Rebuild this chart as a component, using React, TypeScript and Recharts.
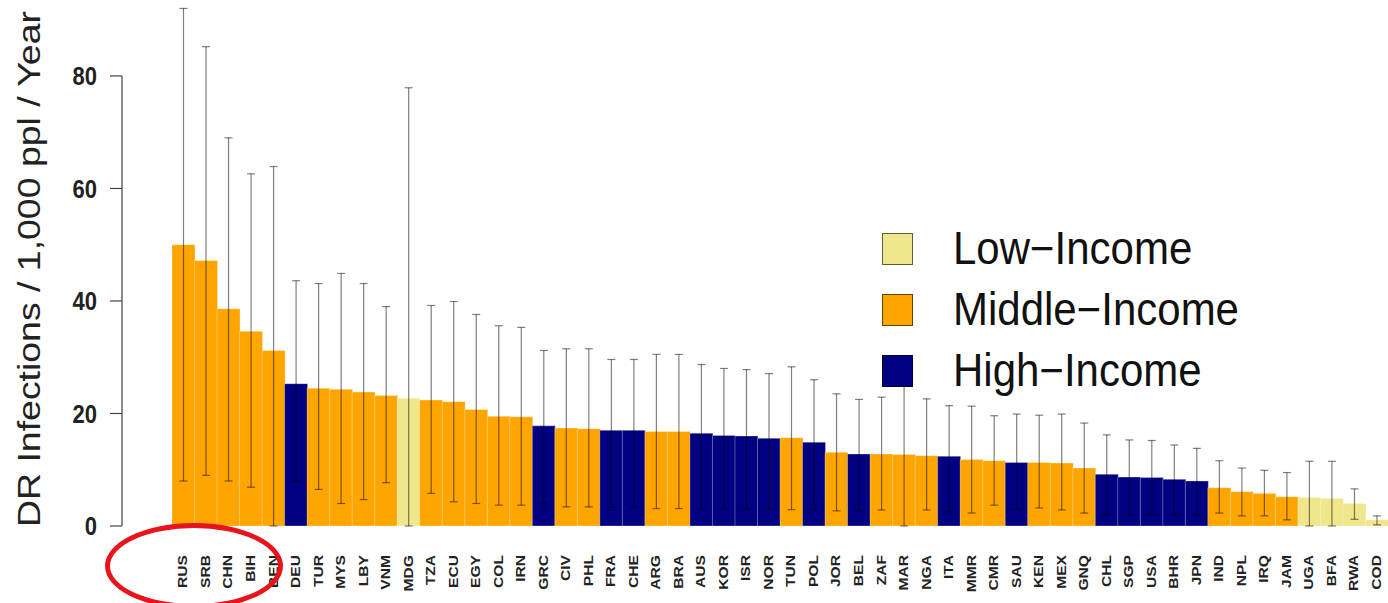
import { BarChart, Bar, Cell, XAxis, YAxis, ErrorBar, Legend } from "recharts";

// countries, ordered as in the figure
const CODES = [
  "RUS", "SRB", "CHN", "BIH", "BEN", "DEU", "TUR", "MYS", "LBY", "VNM",
  "MDG", "TZA", "ECU", "EGY", "COL", "IRN", "GRC", "CIV", "PHL", "FRA",
  "CHE", "ARG", "BRA", "AUS", "KOR", "ISR", "NOR", "TUN", "POL", "JOR",
  "BEL", "ZAF", "MAR", "NGA", "ITA", "MMR", "CMR", "SAU", "KEN", "MEX",
  "GNQ", "CHL", "SGP", "USA", "BHR", "JPN", "IND", "NPL", "IRQ", "JAM",
  "UGA", "BFA", "RWA", "COD",
];

// L = low, M = middle, H = high income
const GROUPS = [
  "M", "M", "M", "M", "M", "H", "M", "M", "M", "M",
  "L", "M", "M", "M", "M", "M", "H", "M", "M", "H",
  "H", "M", "M", "H", "H", "H", "H", "M", "H", "M",
  "H", "M", "M", "M", "H", "M", "M", "H", "M", "M",
  "M", "H", "H", "H", "H", "H", "M", "M", "M", "M",
  "L", "L", "L", "L",
];

const RATES = [
  50.0, 47.2, 38.6, 34.6, 31.2, 25.3, 24.5, 24.3, 23.8, 23.2,
  22.7, 22.4, 22.1, 20.7, 19.5, 19.4, 17.8, 17.4, 17.3, 17.0,
  17.0, 16.8, 16.8, 16.5, 16.1, 16.0, 15.6, 15.7, 14.9, 13.1,
  12.8, 12.8, 12.7, 12.5, 12.4, 11.8, 11.6, 11.3, 11.3, 11.2,
  10.3, 9.2, 8.7, 8.6, 8.3, 8.0, 6.8, 6.1, 5.8, 5.2,
  5.1, 4.9, 4.0, 1.1,
];

const LOWER = [
  8.0, 9.0, 8.0, 6.9, 0, 8.0, 6.5, 4.0, 4.7, 7.7,
  0, 5.8, 4.3, 4.0, 3.7, 3.7, 4.0, 3.4, 3.4, 3.3,
  3.3, 3.1, 3.1, 3.0, 3.0, 3.0, 3.0, 2.9, 2.9, 2.7,
  2.7, 2.85, 0, 2.85, 2.5, 2.3, 3.7, 3.0, 3.2, 2.85,
  2.3, 2.0, 2.0, 2.0, 2.0, 2.0, 2.3, 1.8, 1.8, 1.1,
  0, 0, 1.2, 0.2,
];

const UPPER = [
  92.0, 85.2, 69.0, 62.6, 63.9, 43.6, 43.1, 44.9, 43.1, 39.0,
  77.9, 39.2, 39.9, 37.6, 35.6, 35.3, 31.2, 31.5, 31.5, 29.6,
  29.6, 30.5, 30.5, 28.7, 28.0, 27.8, 27.1, 28.3, 26.0, 23.5,
  22.5, 22.9, 28.0, 22.6, 21.4, 21.3, 19.6, 19.9, 19.7, 19.9,
  18.3, 16.2, 15.3, 15.2, 14.4, 13.8, 11.6, 10.3, 9.9, 9.5,
  11.5, 11.5, 6.6, 1.8,
];

const Y_TICKS = [0, 20, 40, 60, 80];

const LEGEND_ITEMS = [
  { key: "L", label: "Low\u2212Income" },
  { key: "M", label: "Middle\u2212Income" },
  { key: "H", label: "High\u2212Income" },
];

const COLORS: Record<string, string> = {
  L: "#F0E68C",
  M: "#FFA500",
  H: "#000080",
};

const W = 1388;
const H = 603;
const Y_AXIS_W = 122;
const X_AXIS_H = 77;
const PLOT_H = H - X_AXIS_H;
const Y_MAX = 93.5;
const FONT = "'Liberation Sans', Arial, Helvetica, sans-serif";

const data = CODES.map((code, i) => ({
  code,
  group: GROUPS[i],
  rate: RATES[i],
  err: [RATES[i] - LOWER[i], UPPER[i] - RATES[i]],
}));

const YTick = (props: any) => {
  const { x, y, payload } = props;
  const step = (20 * PLOT_H) / Y_MAX;
  return (
    <g>
      {payload.value < 80 && (
        <line x1={Y_AXIS_W} x2={Y_AXIS_W} y1={y} y2={y - step} stroke="#444" strokeWidth={1.2} />
      )}
      <text
        transform={`translate(${x},${y}) scale(1,1.15)`}
        textAnchor="end"
        dy="0.36em"
        fontSize={22}
        fontWeight="bold"
        fill="#222"
        fontFamily={FONT}
      >
        {payload.value}
      </text>
    </g>
  );
};

const XTick = (props: any) => {
  const { x, y, payload } = props;
  return (
    <text
      transform={`translate(${x},${y + 29}) rotate(-90) scale(1.3,1)`}
      textAnchor="end"
      dy="0.35em"
      fontSize={12}
      fontWeight="bold"
      fill="#222"
      fontFamily={FONT}
    >
      {payload.value}
    </text>
  );
};

const YLabel = (props: any) => {
  const bottom = props.viewBox.y + props.viewBox.height;
  return (
    <text
      transform={`translate(40,${bottom + 1}) rotate(-90) scale(1.17,1)`}
      textAnchor="start"
      fontSize={32}
      fill="#222"
      fontFamily={FONT}
    >
      DR Infections / 1,000 ppl / Year
    </text>
  );
};

const IncomeLegend = () => (
  <div style={{ fontFamily: FONT }}>
    {LEGEND_ITEMS.map((item) => (
      <div key={item.key} style={{ display: "flex", alignItems: "center", height: 61 }}>
        <div
          style={{
            width: 31,
            height: 32,
            boxSizing: "border-box",
            background: COLORS[item.key],
            border: "1.5px solid rgba(0,0,0,0.6)",
          }}
        />
        <span
          style={{
            marginLeft: 40,
            fontSize: 42,
            lineHeight: 1,
            color: "#111",
            display: "inline-block",
            transform: "scaleY(1.1)",
            whiteSpace: "nowrap",
          }}
        >
          {item.label}
        </span>
      </div>
    ))}
  </div>
);

export default function App() {
  return (
    <div style={{ position: "absolute", left: 0, top: 0, width: W, height: H, background: "#fff", overflow: "hidden" }}>
      <BarChart
        width={W}
        height={H}
        data={data}
        margin={{ top: 0, right: 0, bottom: 0, left: 0 }}
        barCategoryGap={0}
      >
        <XAxis
          dataKey="code"
          interval={0}
          axisLine={false}
          tickLine={false}
          tickSize={0}
          tickMargin={0}
          height={X_AXIS_H}
          padding={{ left: 50, right: 0 }}
          tick={<XTick />}
        />
        <YAxis
          width={Y_AXIS_W}
          domain={[0, Y_MAX]}
          ticks={Y_TICKS}
          axisLine={false}
          tickLine={{ stroke: "#444", strokeWidth: 1.2 }}
          tickSize={12}
          tickMargin={13}
          tick={<YTick />}
          label={{ content: <YLabel /> }}
        />
        <Bar dataKey="rate" isAnimationActive={false} stroke="rgba(255,255,255,0.3)" strokeWidth={1}>
          {data.map((d, i) => (
            <Cell key={`cell-${i}`} fill={COLORS[d.group]} />
          ))}
          <ErrorBar dataKey="err" width={4} stroke="rgba(0,0,0,0.5)" strokeWidth={1.2} direction="y" />
        </Bar>
        <Legend
          layout="horizontal"
          verticalAlign="middle"
          align="center"
          content={<IncomeLegend />}
          wrapperStyle={{ position: "absolute", left: 882, top: 218, width: 420, height: 190 }}
        />
      </BarChart>
      <div
        style={{
          position: "absolute",
          left: 105,
          top: 523,
          width: 178,
          height: 86,
          boxSizing: "border-box",
          border: "5px solid #e8141b",
          borderRadius: "50%",
          pointerEvents: "none",
        }}
      />
    </div>
  );
}
